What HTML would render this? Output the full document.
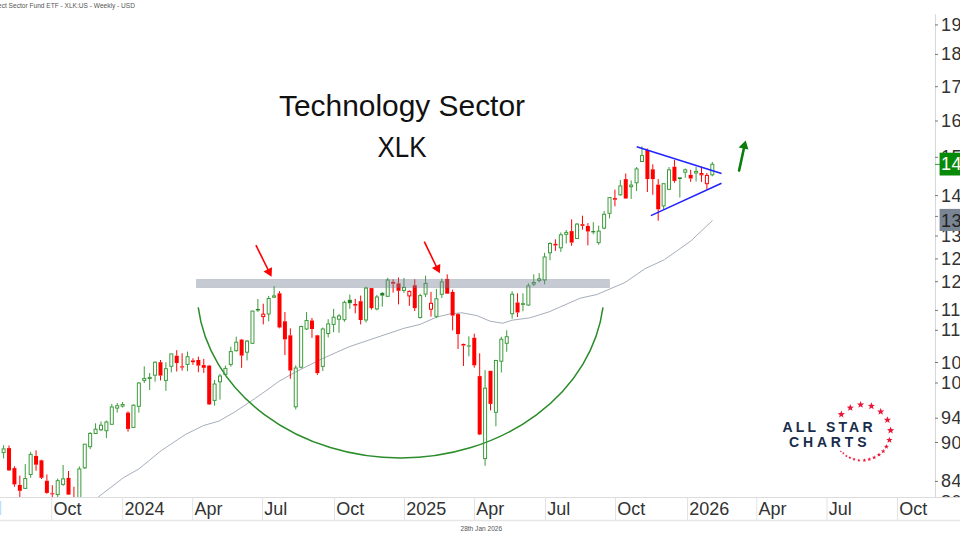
<!DOCTYPE html>
<html><head><meta charset="utf-8">
<style>
html,body{margin:0;padding:0;background:#fff;}
body{width:960px;height:540px;overflow:hidden;position:relative;}
svg{position:absolute;left:0;top:0;}
text{font-family:"Liberation Sans",sans-serif;}
</style></head><body>
<svg width="960" height="540" viewBox="0 0 960 540">
<rect width="960" height="540" fill="#fff"/>
<text x="-2" y="8" font-size="6.8" fill="#555" textLength="137" lengthAdjust="spacingAndGlyphs">ect Sector Fund ETF - XLK:US - Weekly - USD</text>
<g>
<clipPath id="plot"><rect x="0" y="0" width="935" height="497"/></clipPath>
</g>
<g clip-path="url(#plot)">
<path d="M97.8 497.3 L123.3 477.8 L138.9 468.9 L161.1 450.7 L185.6 434.4 L203.3 425.6 L218.9 421.1 L234.4 412.2 L254.4 398.9 L270 387.9 L278.3 381.7 L295 372.3 L322 358.8 L349.2 346.7 L374.2 338.3 L403.3 328.5 L420 324.4 L436.7 317.1 L451 313.7 L462 312.8 L476.9 315.6 L489.8 321.1 L502.8 323.3 L512 320.2 L529.6 317.9 L548.9 311.9 L580.2 298.2 L596.9 294.5 L625 282.5 L645.2 268.6 L664.4 259.7 L690.9 240.9 L712.5 220.5" fill="none" stroke="#a6aebb" stroke-width="1"/>
<path d="M198.22 307.4 A203.6 169 0 0 0 602.98 307.4" fill="none" stroke="#2a8c2a" stroke-width="1.5"/>
<line x1="3.6" y1="445.2" x2="3.6" y2="448.9" stroke="#3c9c3c"/>
<line x1="3.6" y1="452.6" x2="3.6" y2="458.5" stroke="#3c9c3c"/>
<rect x="2.1" y="448.9" width="3" height="3.7" fill="none" stroke="#3c9c3c"/>
<line x1="9.01" y1="445.5" x2="9.01" y2="448.1" stroke="#ff0000"/>
<line x1="9.01" y1="470.4" x2="9.01" y2="471" stroke="#ff0000"/>
<rect x="7.01" y="448.1" width="4" height="22.3" fill="#ff0000"/>
<line x1="14.42" y1="466.2" x2="14.42" y2="468.1" stroke="#ff0000"/>
<line x1="14.42" y1="484.4" x2="14.42" y2="486.7" stroke="#ff0000"/>
<rect x="12.42" y="468.1" width="4" height="16.3" fill="#ff0000"/>
<line x1="19.83" y1="475.6" x2="19.83" y2="484.9" stroke="#ff0000"/>
<line x1="19.83" y1="490.8" x2="19.83" y2="500" stroke="#ff0000"/>
<rect x="17.83" y="484.9" width="4" height="5.9" fill="#ff0000"/>
<line x1="25.24" y1="464.1" x2="25.24" y2="478.5" stroke="#3c9c3c"/>
<line x1="25.24" y1="488.4" x2="25.24" y2="488.9" stroke="#3c9c3c"/>
<rect x="23.74" y="478.5" width="3" height="9.9" fill="none" stroke="#3c9c3c"/>
<line x1="30.65" y1="451.9" x2="30.65" y2="454.4" stroke="#3c9c3c"/>
<line x1="30.65" y1="474.5" x2="30.65" y2="477.8" stroke="#3c9c3c"/>
<rect x="29.15" y="454.4" width="3" height="20.1" fill="none" stroke="#3c9c3c"/>
<line x1="36.06" y1="450.4" x2="36.06" y2="455.9" stroke="#ff0000"/>
<line x1="36.06" y1="464.7" x2="36.06" y2="470.7" stroke="#ff0000"/>
<rect x="34.06" y="455.9" width="4" height="8.8" fill="#ff0000"/>
<line x1="41.47" y1="459.7" x2="41.47" y2="460.3" stroke="#ff0000"/>
<line x1="41.47" y1="477.8" x2="41.47" y2="479" stroke="#ff0000"/>
<rect x="39.47" y="460.3" width="4" height="17.5" fill="#ff0000"/>
<line x1="46.88" y1="474.5" x2="46.88" y2="480.7" stroke="#ff0000"/>
<line x1="46.88" y1="492.9" x2="46.88" y2="493.8" stroke="#ff0000"/>
<rect x="44.88" y="480.7" width="4" height="12.2" fill="#ff0000"/>
<line x1="52.29" y1="485.2" x2="52.29" y2="493.3" stroke="#ff0000"/>
<line x1="52.29" y1="494.4" x2="52.29" y2="500" stroke="#ff0000"/>
<rect x="50.29" y="493.3" width="4" height="1.1" fill="#ff0000"/>
<line x1="57.7" y1="478.5" x2="57.7" y2="480.7" stroke="#3c9c3c"/>
<line x1="57.7" y1="494.6" x2="57.7" y2="500" stroke="#3c9c3c"/>
<rect x="56.2" y="480.7" width="3" height="13.9" fill="none" stroke="#3c9c3c"/>
<line x1="63.11" y1="465" x2="63.11" y2="478.9" stroke="#3c9c3c"/>
<line x1="63.11" y1="484.4" x2="63.11" y2="485.8" stroke="#3c9c3c"/>
<rect x="61.61" y="478.9" width="3" height="5.5" fill="none" stroke="#3c9c3c"/>
<line x1="68.52" y1="471" x2="68.52" y2="477.9" stroke="#ff0000"/>
<line x1="68.52" y1="494.6" x2="68.52" y2="495" stroke="#ff0000"/>
<rect x="66.52" y="477.9" width="4" height="16.7" fill="#ff0000"/>
<line x1="73.93" y1="486.7" x2="73.93" y2="500" stroke="#ff0000"/>
<rect x="71.93" y="500" width="4" height="10" fill="#ff0000"/>
<line x1="79.34" y1="466.4" x2="79.34" y2="468.9" stroke="#3c9c3c"/>
<rect x="77.84" y="468.9" width="3" height="41.1" fill="none" stroke="#3c9c3c"/>
<line x1="84.75" y1="443.9" x2="84.75" y2="444.2" stroke="#3c9c3c"/>
<line x1="84.75" y1="467.8" x2="84.75" y2="468.9" stroke="#3c9c3c"/>
<rect x="83.25" y="444.2" width="3" height="23.6" fill="none" stroke="#3c9c3c"/>
<line x1="90.16" y1="432.1" x2="90.16" y2="433.5" stroke="#3c9c3c"/>
<line x1="90.16" y1="446.7" x2="90.16" y2="449.2" stroke="#3c9c3c"/>
<rect x="88.66" y="433.5" width="3" height="13.2" fill="none" stroke="#3c9c3c"/>
<line x1="95.57" y1="423.3" x2="95.57" y2="429.2" stroke="#3c9c3c"/>
<line x1="95.57" y1="433.5" x2="95.57" y2="433.6" stroke="#3c9c3c"/>
<rect x="94.07" y="429.2" width="3" height="4.3" fill="none" stroke="#3c9c3c"/>
<line x1="100.98" y1="421.5" x2="100.98" y2="425.2" stroke="#3c9c3c"/>
<line x1="100.98" y1="429.8" x2="100.98" y2="431.1" stroke="#3c9c3c"/>
<rect x="99.48" y="425.2" width="3" height="4.6" fill="none" stroke="#3c9c3c"/>
<line x1="106.39" y1="420.6" x2="106.39" y2="422" stroke="#3c9c3c"/>
<line x1="106.39" y1="430.7" x2="106.39" y2="438.1" stroke="#3c9c3c"/>
<rect x="104.89" y="422" width="3" height="8.7" fill="none" stroke="#3c9c3c"/>
<line x1="111.8" y1="403.9" x2="111.8" y2="407" stroke="#3c9c3c"/>
<rect x="110.3" y="407" width="3" height="17.3" fill="none" stroke="#3c9c3c"/>
<line x1="117.21" y1="403" x2="117.21" y2="405.7" stroke="#3c9c3c"/>
<line x1="117.21" y1="408.1" x2="117.21" y2="412.6" stroke="#3c9c3c"/>
<rect x="115.71" y="405.7" width="3" height="2.4" fill="none" stroke="#3c9c3c"/>
<line x1="122.62" y1="402" x2="122.62" y2="404.5" stroke="#3c9c3c"/>
<line x1="122.62" y1="406.1" x2="122.62" y2="407.6" stroke="#3c9c3c"/>
<rect x="121.12" y="404.5" width="3" height="1.6" fill="none" stroke="#3c9c3c"/>
<line x1="128.03" y1="411.3" x2="128.03" y2="412.6" stroke="#ff0000"/>
<line x1="128.03" y1="428.9" x2="128.03" y2="431.7" stroke="#ff0000"/>
<rect x="126.03" y="412.6" width="4" height="16.3" fill="#ff0000"/>
<line x1="133.44" y1="404.4" x2="133.44" y2="405.2" stroke="#3c9c3c"/>
<rect x="131.94" y="405.2" width="3" height="22.2" fill="none" stroke="#3c9c3c"/>
<line x1="138.85" y1="382.2" x2="138.85" y2="383" stroke="#3c9c3c"/>
<line x1="138.85" y1="406.3" x2="138.85" y2="412.6" stroke="#3c9c3c"/>
<rect x="137.35" y="383" width="3" height="23.3" fill="none" stroke="#3c9c3c"/>
<line x1="144.26" y1="366.3" x2="144.26" y2="378.5" stroke="#3c9c3c"/>
<line x1="144.26" y1="380.4" x2="144.26" y2="383" stroke="#3c9c3c"/>
<rect x="142.76" y="378.5" width="3" height="1.9" fill="none" stroke="#3c9c3c"/>
<line x1="149.67" y1="373" x2="149.67" y2="377.4" stroke="#3c9c3c"/>
<line x1="149.67" y1="378.5" x2="149.67" y2="390" stroke="#3c9c3c"/>
<rect x="148.17" y="377.4" width="3" height="1.1" fill="none" stroke="#3c9c3c"/>
<line x1="155.08" y1="361.3" x2="155.08" y2="362.2" stroke="#3c9c3c"/>
<line x1="155.08" y1="375.2" x2="155.08" y2="381.7" stroke="#3c9c3c"/>
<rect x="153.58" y="362.2" width="3" height="13" fill="none" stroke="#3c9c3c"/>
<line x1="160.49" y1="360" x2="160.49" y2="362.2" stroke="#ff0000"/>
<line x1="160.49" y1="375.6" x2="160.49" y2="380.4" stroke="#ff0000"/>
<rect x="158.49" y="362.2" width="4" height="13.4" fill="#ff0000"/>
<line x1="165.9" y1="362.2" x2="165.9" y2="368.7" stroke="#3c9c3c"/>
<line x1="165.9" y1="380.4" x2="165.9" y2="390.9" stroke="#3c9c3c"/>
<rect x="164.4" y="368.7" width="3" height="11.7" fill="none" stroke="#3c9c3c"/>
<line x1="171.31" y1="366.3" x2="171.31" y2="372.4" stroke="#3c9c3c"/>
<rect x="169.81" y="353.9" width="3" height="12.4" fill="none" stroke="#3c9c3c"/>
<line x1="176.72" y1="350.2" x2="176.72" y2="355.7" stroke="#ff0000"/>
<line x1="176.72" y1="363.1" x2="176.72" y2="371.5" stroke="#ff0000"/>
<rect x="174.72" y="355.7" width="4" height="7.4" fill="#ff0000"/>
<line x1="182.13" y1="353.3" x2="182.13" y2="366.3" stroke="#ff0000"/>
<line x1="182.13" y1="367.5" x2="182.13" y2="370.6" stroke="#ff0000"/>
<rect x="180.13" y="366.3" width="4" height="1.2" fill="#ff0000"/>
<line x1="187.54" y1="351.6" x2="187.54" y2="356.7" stroke="#3c9c3c"/>
<line x1="187.54" y1="364.4" x2="187.54" y2="371.1" stroke="#3c9c3c"/>
<rect x="186.04" y="356.7" width="3" height="7.7" fill="none" stroke="#3c9c3c"/>
<line x1="192.95" y1="358.2" x2="192.95" y2="360.4" stroke="#ff0000"/>
<line x1="192.95" y1="362.2" x2="192.95" y2="364.9" stroke="#ff0000"/>
<rect x="190.95" y="360.4" width="4" height="1.8" fill="#ff0000"/>
<line x1="198.36" y1="356.7" x2="198.36" y2="360" stroke="#ff0000"/>
<line x1="198.36" y1="365.6" x2="198.36" y2="372.2" stroke="#ff0000"/>
<rect x="196.36" y="360" width="4" height="5.6" fill="#ff0000"/>
<line x1="203.77" y1="358.9" x2="203.77" y2="365.1" stroke="#ff0000"/>
<line x1="203.77" y1="367.8" x2="203.77" y2="372.9" stroke="#ff0000"/>
<rect x="201.77" y="365.1" width="4" height="2.7" fill="#ff0000"/>
<line x1="209.18" y1="364.9" x2="209.18" y2="365.6" stroke="#ff0000"/>
<line x1="209.18" y1="404.4" x2="209.18" y2="405" stroke="#ff0000"/>
<rect x="207.18" y="365.6" width="4" height="38.8" fill="#ff0000"/>
<line x1="214.59" y1="380" x2="214.59" y2="384" stroke="#3c9c3c"/>
<line x1="214.59" y1="400.4" x2="214.59" y2="405.6" stroke="#3c9c3c"/>
<rect x="213.09" y="384" width="3" height="16.4" fill="none" stroke="#3c9c3c"/>
<line x1="220" y1="373.8" x2="220" y2="376" stroke="#3c9c3c"/>
<line x1="220" y1="381.8" x2="220" y2="399.6" stroke="#3c9c3c"/>
<rect x="218.5" y="376" width="3" height="5.8" fill="none" stroke="#3c9c3c"/>
<line x1="225.41" y1="365.6" x2="225.41" y2="368.4" stroke="#3c9c3c"/>
<line x1="225.41" y1="374.4" x2="225.41" y2="375.6" stroke="#3c9c3c"/>
<rect x="223.91" y="368.4" width="3" height="6" fill="none" stroke="#3c9c3c"/>
<line x1="230.82" y1="346.7" x2="230.82" y2="351.6" stroke="#3c9c3c"/>
<line x1="230.82" y1="364.4" x2="230.82" y2="366.7" stroke="#3c9c3c"/>
<rect x="229.32" y="351.6" width="3" height="12.8" fill="none" stroke="#3c9c3c"/>
<line x1="236.23" y1="336.7" x2="236.23" y2="342.2" stroke="#3c9c3c"/>
<line x1="236.23" y1="350.7" x2="236.23" y2="351.6" stroke="#3c9c3c"/>
<rect x="234.73" y="342.2" width="3" height="8.5" fill="none" stroke="#3c9c3c"/>
<line x1="241.64" y1="338.9" x2="241.64" y2="339.6" stroke="#ff0000"/>
<line x1="241.64" y1="355.6" x2="241.64" y2="367.8" stroke="#ff0000"/>
<rect x="239.64" y="339.6" width="4" height="16" fill="#ff0000"/>
<line x1="247.05" y1="340" x2="247.05" y2="341.1" stroke="#3c9c3c"/>
<line x1="247.05" y1="352.2" x2="247.05" y2="360.4" stroke="#3c9c3c"/>
<rect x="245.55" y="341.1" width="3" height="11.1" fill="none" stroke="#3c9c3c"/>
<line x1="252.46" y1="310.7" x2="252.46" y2="311.1" stroke="#3c9c3c"/>
<line x1="252.46" y1="343.3" x2="252.46" y2="344" stroke="#3c9c3c"/>
<rect x="250.96" y="311.1" width="3" height="32.2" fill="none" stroke="#3c9c3c"/>
<line x1="257.87" y1="299" x2="257.87" y2="309" stroke="#3c9c3c"/>
<line x1="257.87" y1="310.5" x2="257.87" y2="312" stroke="#3c9c3c"/>
<rect x="255.87" y="309" width="4" height="1.5" fill="#1f7f1f"/>
<line x1="263.28" y1="303.7" x2="263.28" y2="314.2" stroke="#ff0000"/>
<line x1="263.28" y1="316.6" x2="263.28" y2="324.4" stroke="#ff0000"/>
<rect x="261.78" y="314.2" width="3" height="2.4" fill="none" stroke="#ff0000"/>
<line x1="268.69" y1="295.9" x2="268.69" y2="298.5" stroke="#3c9c3c"/>
<line x1="268.69" y1="314" x2="268.69" y2="321.3" stroke="#3c9c3c"/>
<rect x="267.19" y="298.5" width="3" height="15.5" fill="none" stroke="#3c9c3c"/>
<line x1="274.1" y1="286" x2="274.1" y2="295.9" stroke="#3c9c3c"/>
<line x1="274.1" y1="297.2" x2="274.1" y2="298" stroke="#3c9c3c"/>
<rect x="272.6" y="295.9" width="3" height="1.3" fill="none" stroke="#3c9c3c"/>
<line x1="279.51" y1="291.2" x2="279.51" y2="293.3" stroke="#ff0000"/>
<line x1="279.51" y1="327.5" x2="279.51" y2="328.3" stroke="#ff0000"/>
<rect x="277.51" y="293.3" width="4" height="34.2" fill="#ff0000"/>
<line x1="284.92" y1="312" x2="284.92" y2="321.3" stroke="#ff0000"/>
<line x1="284.92" y1="339.4" x2="284.92" y2="355" stroke="#ff0000"/>
<rect x="282.92" y="321.3" width="4" height="18.1" fill="#ff0000"/>
<line x1="290.33" y1="328.3" x2="290.33" y2="335.3" stroke="#ff0000"/>
<line x1="290.33" y1="370.5" x2="290.33" y2="378.8" stroke="#ff0000"/>
<rect x="288.33" y="335.3" width="4" height="35.2" fill="#ff0000"/>
<line x1="295.74" y1="365.3" x2="295.74" y2="368" stroke="#3c9c3c"/>
<line x1="295.74" y1="406.8" x2="295.74" y2="409.4" stroke="#3c9c3c"/>
<rect x="294.24" y="368" width="3" height="38.8" fill="none" stroke="#3c9c3c"/>
<line x1="301.15" y1="325.7" x2="301.15" y2="326.5" stroke="#3c9c3c"/>
<line x1="301.15" y1="367.2" x2="301.15" y2="368.4" stroke="#3c9c3c"/>
<rect x="299.65" y="326.5" width="3" height="40.7" fill="none" stroke="#3c9c3c"/>
<line x1="306.56" y1="312" x2="306.56" y2="320.5" stroke="#3c9c3c"/>
<line x1="306.56" y1="329" x2="306.56" y2="330" stroke="#3c9c3c"/>
<rect x="305.06" y="320.5" width="3" height="8.5" fill="none" stroke="#3c9c3c"/>
<line x1="311.97" y1="318" x2="311.97" y2="320.5" stroke="#ff0000"/>
<line x1="311.97" y1="329" x2="311.97" y2="337.9" stroke="#ff0000"/>
<rect x="309.97" y="320.5" width="4" height="8.5" fill="#ff0000"/>
<line x1="317.38" y1="334.8" x2="317.38" y2="335.3" stroke="#ff0000"/>
<line x1="317.38" y1="373.1" x2="317.38" y2="374.9" stroke="#ff0000"/>
<rect x="315.38" y="335.3" width="4" height="37.8" fill="#ff0000"/>
<line x1="322.79" y1="327.5" x2="322.79" y2="329" stroke="#3c9c3c"/>
<line x1="322.79" y1="366.4" x2="322.79" y2="371" stroke="#3c9c3c"/>
<rect x="321.29" y="329" width="3" height="37.4" fill="none" stroke="#3c9c3c"/>
<line x1="328.2" y1="319.2" x2="328.2" y2="323.9" stroke="#3c9c3c"/>
<line x1="328.2" y1="333.5" x2="328.2" y2="337.4" stroke="#3c9c3c"/>
<rect x="326.7" y="323.9" width="3" height="9.6" fill="none" stroke="#3c9c3c"/>
<line x1="333.61" y1="308.9" x2="333.61" y2="317.2" stroke="#3c9c3c"/>
<line x1="333.61" y1="324.4" x2="333.61" y2="332.2" stroke="#3c9c3c"/>
<rect x="332.11" y="317.2" width="3" height="7.2" fill="none" stroke="#3c9c3c"/>
<line x1="339.02" y1="314" x2="339.02" y2="316" stroke="#3c9c3c"/>
<line x1="339.02" y1="319.2" x2="339.02" y2="332.7" stroke="#3c9c3c"/>
<rect x="337.52" y="316" width="3" height="3.2" fill="none" stroke="#3c9c3c"/>
<line x1="344.43" y1="300.6" x2="344.43" y2="302.4" stroke="#3c9c3c"/>
<line x1="344.43" y1="319.7" x2="344.43" y2="321.8" stroke="#3c9c3c"/>
<rect x="342.93" y="302.4" width="3" height="17.3" fill="none" stroke="#3c9c3c"/>
<line x1="349.84" y1="294.6" x2="349.84" y2="299.8" stroke="#3c9c3c"/>
<line x1="349.84" y1="303.2" x2="349.84" y2="308.9" stroke="#3c9c3c"/>
<rect x="347.84" y="299.8" width="4" height="3.4" fill="#1f7f1f"/>
<line x1="355.25" y1="298.8" x2="355.25" y2="304" stroke="#ff0000"/>
<line x1="355.25" y1="305.6" x2="355.25" y2="313.3" stroke="#ff0000"/>
<rect x="353.25" y="304" width="4" height="1.6" fill="#ff0000"/>
<line x1="360.66" y1="295.6" x2="360.66" y2="301.2" stroke="#ff0000"/>
<line x1="360.66" y1="320" x2="360.66" y2="324.4" stroke="#ff0000"/>
<rect x="358.66" y="301.2" width="4" height="18.8" fill="#ff0000"/>
<line x1="366.07" y1="286.7" x2="366.07" y2="288.1" stroke="#3c9c3c"/>
<line x1="366.07" y1="320" x2="366.07" y2="322.5" stroke="#3c9c3c"/>
<rect x="364.57" y="288.1" width="3" height="31.9" fill="none" stroke="#3c9c3c"/>
<line x1="371.48" y1="287.9" x2="371.48" y2="288.1" stroke="#ff0000"/>
<line x1="371.48" y1="308.1" x2="371.48" y2="309.6" stroke="#ff0000"/>
<rect x="369.48" y="288.1" width="4" height="20" fill="#ff0000"/>
<line x1="376.89" y1="294.8" x2="376.89" y2="297" stroke="#3c9c3c"/>
<line x1="376.89" y1="308.9" x2="376.89" y2="310.4" stroke="#3c9c3c"/>
<rect x="375.39" y="297" width="3" height="11.9" fill="none" stroke="#3c9c3c"/>
<line x1="382.3" y1="291.9" x2="382.3" y2="292.9" stroke="#3c9c3c"/>
<line x1="382.3" y1="295.6" x2="382.3" y2="306.7" stroke="#3c9c3c"/>
<rect x="380.3" y="292.9" width="4" height="2.7" fill="#1f7f1f"/>
<line x1="387.71" y1="277.8" x2="387.71" y2="280" stroke="#3c9c3c"/>
<line x1="387.71" y1="296.3" x2="387.71" y2="297" stroke="#3c9c3c"/>
<rect x="386.21" y="280" width="3" height="16.3" fill="none" stroke="#3c9c3c"/>
<line x1="393.12" y1="279.3" x2="393.12" y2="281.9" stroke="#ff0000"/>
<line x1="393.12" y1="283.7" x2="393.12" y2="292.6" stroke="#ff0000"/>
<rect x="391.12" y="281.9" width="4" height="1.8" fill="#ff0000"/>
<line x1="398.53" y1="277.5" x2="398.53" y2="283.4" stroke="#ff0000"/>
<line x1="398.53" y1="290.8" x2="398.53" y2="304.4" stroke="#ff0000"/>
<rect x="396.53" y="283.4" width="4" height="7.4" fill="#ff0000"/>
<line x1="403.94" y1="278" x2="403.94" y2="287.4" stroke="#3c9c3c"/>
<line x1="403.94" y1="290.4" x2="403.94" y2="292.9" stroke="#3c9c3c"/>
<rect x="402.44" y="287.4" width="3" height="3" fill="none" stroke="#3c9c3c"/>
<line x1="409.35" y1="290.4" x2="409.35" y2="291.4" stroke="#ff0000"/>
<line x1="409.35" y1="295.9" x2="409.35" y2="305.9" stroke="#ff0000"/>
<rect x="407.85" y="291.4" width="3" height="4.5" fill="none" stroke="#ff0000"/>
<line x1="414.76" y1="279.3" x2="414.76" y2="285.2" stroke="#ff0000"/>
<line x1="414.76" y1="308.1" x2="414.76" y2="311.1" stroke="#ff0000"/>
<rect x="412.76" y="285.2" width="4" height="22.9" fill="#ff0000"/>
<line x1="420.17" y1="293.8" x2="420.17" y2="295.6" stroke="#3c9c3c"/>
<line x1="420.17" y1="317.5" x2="420.17" y2="318.5" stroke="#3c9c3c"/>
<rect x="418.67" y="295.6" width="3" height="21.9" fill="none" stroke="#3c9c3c"/>
<line x1="425.58" y1="275.6" x2="425.58" y2="283.4" stroke="#3c9c3c"/>
<line x1="425.58" y1="294.1" x2="425.58" y2="297" stroke="#3c9c3c"/>
<rect x="424.08" y="283.4" width="3" height="10.7" fill="none" stroke="#3c9c3c"/>
<line x1="430.99" y1="291.9" x2="430.99" y2="303.3" stroke="#ff0000"/>
<line x1="430.99" y1="309.2" x2="430.99" y2="316.6" stroke="#ff0000"/>
<rect x="429.49" y="303.3" width="3" height="5.9" fill="none" stroke="#ff0000"/>
<line x1="436.4" y1="288.9" x2="436.4" y2="298.8" stroke="#3c9c3c"/>
<line x1="436.4" y1="316.3" x2="436.4" y2="318.1" stroke="#3c9c3c"/>
<rect x="434.9" y="298.8" width="3" height="17.5" fill="none" stroke="#3c9c3c"/>
<line x1="441.81" y1="278.5" x2="441.81" y2="281.9" stroke="#3c9c3c"/>
<line x1="441.81" y1="294.3" x2="441.81" y2="298" stroke="#3c9c3c"/>
<rect x="440.31" y="281.9" width="3" height="12.4" fill="none" stroke="#3c9c3c"/>
<line x1="447.22" y1="274.4" x2="447.22" y2="278.9" stroke="#ff0000"/>
<rect x="445.22" y="278.9" width="4" height="14.8" fill="#ff0000"/>
<line x1="452.63" y1="289.6" x2="452.63" y2="291.9" stroke="#ff0000"/>
<line x1="452.63" y1="315.6" x2="452.63" y2="330.4" stroke="#ff0000"/>
<rect x="450.63" y="291.9" width="4" height="23.7" fill="#ff0000"/>
<line x1="458.04" y1="313.3" x2="458.04" y2="314.1" stroke="#ff0000"/>
<line x1="458.04" y1="334.1" x2="458.04" y2="348.9" stroke="#ff0000"/>
<rect x="456.04" y="314.1" width="4" height="20" fill="#ff0000"/>
<line x1="463.45" y1="343.6" x2="463.45" y2="343.95" stroke="#ff0000"/>
<line x1="463.45" y1="345.55" x2="463.45" y2="366" stroke="#ff0000"/>
<rect x="461.45" y="343.95" width="4" height="1.6" fill="#ff0000"/>
<line x1="468.86" y1="336.3" x2="468.86" y2="345.5" stroke="#3c9c3c"/>
<line x1="468.86" y1="346.5" x2="468.86" y2="356.3" stroke="#3c9c3c"/>
<rect x="466.86" y="345.5" width="4" height="1" fill="#1f7f1f"/>
<line x1="474.27" y1="333.7" x2="474.27" y2="337.8" stroke="#ff0000"/>
<line x1="474.27" y1="365.3" x2="474.27" y2="367.7" stroke="#ff0000"/>
<rect x="472.27" y="337.8" width="4" height="27.5" fill="#ff0000"/>
<line x1="479.68" y1="353.3" x2="479.68" y2="376.1" stroke="#ff0000"/>
<line x1="479.68" y1="434.5" x2="479.68" y2="435.2" stroke="#ff0000"/>
<rect x="477.68" y="376.1" width="4" height="58.4" fill="#ff0000"/>
<line x1="485.09" y1="370.1" x2="485.09" y2="388.2" stroke="#3c9c3c"/>
<line x1="485.09" y1="458.6" x2="485.09" y2="465.8" stroke="#3c9c3c"/>
<rect x="483.59" y="388.2" width="3" height="70.4" fill="none" stroke="#3c9c3c"/>
<line x1="490.5" y1="403.9" x2="490.5" y2="410.4" stroke="#ff0000"/>
<rect x="488.5" y="370.8" width="4" height="33.1" fill="#ff0000"/>
<line x1="495.91" y1="359.8" x2="495.91" y2="360.5" stroke="#3c9c3c"/>
<line x1="495.91" y1="412.3" x2="495.91" y2="426.3" stroke="#3c9c3c"/>
<rect x="494.41" y="360.5" width="3" height="51.8" fill="none" stroke="#3c9c3c"/>
<line x1="501.32" y1="336.7" x2="501.32" y2="339.2" stroke="#3c9c3c"/>
<line x1="501.32" y1="361.2" x2="501.32" y2="372.5" stroke="#3c9c3c"/>
<rect x="499.82" y="339.2" width="3" height="22" fill="none" stroke="#3c9c3c"/>
<line x1="506.73" y1="330.3" x2="506.73" y2="336.7" stroke="#3c9c3c"/>
<line x1="506.73" y1="343.3" x2="506.73" y2="351.7" stroke="#3c9c3c"/>
<rect x="505.23" y="336.7" width="3" height="6.6" fill="none" stroke="#3c9c3c"/>
<line x1="512.14" y1="291.3" x2="512.14" y2="294.2" stroke="#3c9c3c"/>
<line x1="512.14" y1="313.7" x2="512.14" y2="318.7" stroke="#3c9c3c"/>
<rect x="510.64" y="294.2" width="3" height="19.5" fill="none" stroke="#3c9c3c"/>
<line x1="517.55" y1="293.3" x2="517.55" y2="302.5" stroke="#ff0000"/>
<line x1="517.55" y1="312.5" x2="517.55" y2="317" stroke="#ff0000"/>
<rect x="515.55" y="302.5" width="4" height="10" fill="#ff0000"/>
<line x1="522.96" y1="293.3" x2="522.96" y2="303.3" stroke="#3c9c3c"/>
<line x1="522.96" y1="304.7" x2="522.96" y2="311.3" stroke="#3c9c3c"/>
<rect x="520.96" y="303.3" width="4" height="1.4" fill="#1f7f1f"/>
<line x1="528.37" y1="283.3" x2="528.37" y2="285.8" stroke="#3c9c3c"/>
<line x1="528.37" y1="305" x2="528.37" y2="305.8" stroke="#3c9c3c"/>
<rect x="526.87" y="285.8" width="3" height="19.2" fill="none" stroke="#3c9c3c"/>
<line x1="533.78" y1="274.4" x2="533.78" y2="282.45" stroke="#3c9c3c"/>
<line x1="533.78" y1="284.05" x2="533.78" y2="286.1" stroke="#3c9c3c"/>
<rect x="532.28" y="282.45" width="3" height="1.6" fill="none" stroke="#3c9c3c"/>
<line x1="539.19" y1="273.1" x2="539.19" y2="278.8" stroke="#3c9c3c"/>
<line x1="539.19" y1="280.4" x2="539.19" y2="282.4" stroke="#3c9c3c"/>
<rect x="537.69" y="278.8" width="3" height="1.6" fill="none" stroke="#3c9c3c"/>
<line x1="544.6" y1="252.8" x2="544.6" y2="257" stroke="#3c9c3c"/>
<line x1="544.6" y1="280" x2="544.6" y2="284.3" stroke="#3c9c3c"/>
<rect x="543.1" y="257" width="3" height="23" fill="none" stroke="#3c9c3c"/>
<line x1="550.01" y1="242.2" x2="550.01" y2="243.5" stroke="#3c9c3c"/>
<line x1="550.01" y1="252.8" x2="550.01" y2="260.2" stroke="#3c9c3c"/>
<rect x="548.51" y="243.5" width="3" height="9.3" fill="none" stroke="#3c9c3c"/>
<line x1="555.42" y1="239.3" x2="555.42" y2="243.85" stroke="#ff0000"/>
<line x1="555.42" y1="245.45" x2="555.42" y2="250.9" stroke="#ff0000"/>
<rect x="553.42" y="243.85" width="4" height="1.6" fill="#ff0000"/>
<line x1="560.83" y1="232.4" x2="560.83" y2="234.8" stroke="#3c9c3c"/>
<line x1="560.83" y1="247.8" x2="560.83" y2="251.9" stroke="#3c9c3c"/>
<rect x="559.33" y="234.8" width="3" height="13" fill="none" stroke="#3c9c3c"/>
<line x1="566.24" y1="230" x2="566.24" y2="232.4" stroke="#3c9c3c"/>
<line x1="566.24" y1="234.3" x2="566.24" y2="243.5" stroke="#3c9c3c"/>
<rect x="564.74" y="232.4" width="3" height="1.9" fill="none" stroke="#3c9c3c"/>
<line x1="571.65" y1="219.4" x2="571.65" y2="231.1" stroke="#ff0000"/>
<line x1="571.65" y1="242.6" x2="571.65" y2="245.9" stroke="#ff0000"/>
<rect x="569.65" y="231.1" width="4" height="11.5" fill="#ff0000"/>
<line x1="577.06" y1="223.1" x2="577.06" y2="224.1" stroke="#3c9c3c"/>
<rect x="575.56" y="224.1" width="3" height="14.4" fill="none" stroke="#3c9c3c"/>
<line x1="582.47" y1="215.7" x2="582.47" y2="224.2" stroke="#ff0000"/>
<line x1="582.47" y1="225.8" x2="582.47" y2="229.6" stroke="#ff0000"/>
<rect x="580.47" y="224.2" width="4" height="1.6" fill="#ff0000"/>
<line x1="587.88" y1="223.1" x2="587.88" y2="225.9" stroke="#ff0000"/>
<line x1="587.88" y1="231.5" x2="587.88" y2="245.4" stroke="#ff0000"/>
<rect x="585.88" y="225.9" width="4" height="5.6" fill="#ff0000"/>
<line x1="593.29" y1="222.2" x2="593.29" y2="231.1" stroke="#3c9c3c"/>
<line x1="593.29" y1="232.4" x2="593.29" y2="234.3" stroke="#3c9c3c"/>
<rect x="591.29" y="231.1" width="4" height="1.3" fill="#1f7f1f"/>
<line x1="598.7" y1="225.6" x2="598.7" y2="231.1" stroke="#3c9c3c"/>
<line x1="598.7" y1="242.6" x2="598.7" y2="244.8" stroke="#3c9c3c"/>
<rect x="597.2" y="231.1" width="3" height="11.5" fill="none" stroke="#3c9c3c"/>
<line x1="604.11" y1="211.1" x2="604.11" y2="214.3" stroke="#3c9c3c"/>
<line x1="604.11" y1="228.1" x2="604.11" y2="229.3" stroke="#3c9c3c"/>
<rect x="602.61" y="214.3" width="3" height="13.8" fill="none" stroke="#3c9c3c"/>
<line x1="609.52" y1="197" x2="609.52" y2="197.6" stroke="#3c9c3c"/>
<line x1="609.52" y1="213.3" x2="609.52" y2="218.3" stroke="#3c9c3c"/>
<rect x="608.02" y="197.6" width="3" height="15.7" fill="none" stroke="#3c9c3c"/>
<line x1="614.93" y1="189.6" x2="614.93" y2="198.1" stroke="#ff0000"/>
<line x1="614.93" y1="199.7" x2="614.93" y2="206.3" stroke="#ff0000"/>
<rect x="612.93" y="198.1" width="4" height="1.6" fill="#ff0000"/>
<line x1="620.34" y1="180" x2="620.34" y2="185.9" stroke="#3c9c3c"/>
<line x1="620.34" y1="194.8" x2="620.34" y2="195.7" stroke="#3c9c3c"/>
<rect x="618.84" y="185.9" width="3" height="8.9" fill="none" stroke="#3c9c3c"/>
<line x1="625.75" y1="173.5" x2="625.75" y2="179.1" stroke="#ff0000"/>
<line x1="625.75" y1="198.5" x2="625.75" y2="198.9" stroke="#ff0000"/>
<rect x="623.75" y="179.1" width="4" height="19.4" fill="#ff0000"/>
<line x1="631.16" y1="180.4" x2="631.16" y2="185.1" stroke="#3c9c3c"/>
<line x1="631.16" y1="186.7" x2="631.16" y2="198.9" stroke="#3c9c3c"/>
<rect x="629.66" y="185.1" width="3" height="1.6" fill="none" stroke="#3c9c3c"/>
<line x1="636.57" y1="167" x2="636.57" y2="168.9" stroke="#3c9c3c"/>
<line x1="636.57" y1="182.8" x2="636.57" y2="191.1" stroke="#3c9c3c"/>
<rect x="635.07" y="168.9" width="3" height="13.9" fill="none" stroke="#3c9c3c"/>
<line x1="641.98" y1="146.3" x2="641.98" y2="155.6" stroke="#3c9c3c"/>
<rect x="640.48" y="155.6" width="3" height="5.9" fill="none" stroke="#3c9c3c"/>
<line x1="647.39" y1="148.5" x2="647.39" y2="150" stroke="#ff0000"/>
<line x1="647.39" y1="179.1" x2="647.39" y2="192" stroke="#ff0000"/>
<rect x="645.39" y="150" width="4" height="29.1" fill="#ff0000"/>
<line x1="652.8" y1="164.3" x2="652.8" y2="169.3" stroke="#ff0000"/>
<line x1="652.8" y1="179.1" x2="652.8" y2="194.8" stroke="#ff0000"/>
<rect x="650.8" y="169.3" width="4" height="9.8" fill="#ff0000"/>
<line x1="658.21" y1="179.1" x2="658.21" y2="184.6" stroke="#ff0000"/>
<line x1="658.21" y1="209.3" x2="658.21" y2="220.7" stroke="#ff0000"/>
<rect x="656.21" y="184.6" width="4" height="24.7" fill="#ff0000"/>
<line x1="663.62" y1="183.3" x2="663.62" y2="183.7" stroke="#3c9c3c"/>
<line x1="663.62" y1="205.9" x2="663.62" y2="209.3" stroke="#3c9c3c"/>
<rect x="662.12" y="183.7" width="3" height="22.2" fill="none" stroke="#3c9c3c"/>
<line x1="669.03" y1="167" x2="669.03" y2="169.8" stroke="#3c9c3c"/>
<line x1="669.03" y1="189.3" x2="669.03" y2="190.2" stroke="#3c9c3c"/>
<rect x="667.53" y="169.8" width="3" height="19.5" fill="none" stroke="#3c9c3c"/>
<line x1="674.44" y1="160" x2="674.44" y2="166.7" stroke="#ff0000"/>
<line x1="674.44" y1="180.9" x2="674.44" y2="182.8" stroke="#ff0000"/>
<rect x="672.44" y="166.7" width="4" height="14.2" fill="#ff0000"/>
<line x1="679.85" y1="178.95" x2="679.85" y2="197.6" stroke="#3c9c3c"/>
<rect x="677.85" y="177.35" width="4" height="1.6" fill="#1f7f1f"/>
<line x1="685.26" y1="168.5" x2="685.26" y2="169.8" stroke="#3c9c3c"/>
<line x1="685.26" y1="172.2" x2="685.26" y2="177.8" stroke="#3c9c3c"/>
<rect x="683.76" y="169.8" width="3" height="2.4" fill="none" stroke="#3c9c3c"/>
<line x1="690.67" y1="169.8" x2="690.67" y2="174.8" stroke="#ff0000"/>
<line x1="690.67" y1="178.5" x2="690.67" y2="181.9" stroke="#ff0000"/>
<rect x="688.67" y="174.8" width="4" height="3.7" fill="#ff0000"/>
<line x1="696.08" y1="166.7" x2="696.08" y2="171.35" stroke="#3c9c3c"/>
<line x1="696.08" y1="172.95" x2="696.08" y2="181.5" stroke="#3c9c3c"/>
<rect x="694.58" y="171.35" width="3" height="1.6" fill="none" stroke="#3c9c3c"/>
<line x1="701.49" y1="166.7" x2="701.49" y2="173.5" stroke="#ff0000"/>
<line x1="701.49" y1="174.8" x2="701.49" y2="181.9" stroke="#ff0000"/>
<rect x="699.99" y="173.5" width="3" height="1.3" fill="none" stroke="#ff0000"/>
<line x1="706.9" y1="173" x2="706.9" y2="175.4" stroke="#ff0000"/>
<line x1="706.9" y1="183.7" x2="706.9" y2="189.3" stroke="#ff0000"/>
<rect x="705.4" y="175.4" width="3" height="8.3" fill="none" stroke="#ff0000"/>
<line x1="712.31" y1="161.9" x2="712.31" y2="164.3" stroke="#3c9c3c"/>
<line x1="712.31" y1="174.8" x2="712.31" y2="176.3" stroke="#3c9c3c"/>
<rect x="710.81" y="164.3" width="3" height="10.5" fill="none" stroke="#3c9c3c"/>
<rect x="196.5" y="279.4" width="413" height="8.2" fill="rgba(112,124,146,0.4)" stroke="rgba(100,112,130,0.25)" stroke-width="0.8"/>
<line x1="636.7" y1="146.7" x2="721.5" y2="173.5" stroke="#2222ff" stroke-width="1.5"/>
<line x1="650.9" y1="215.6" x2="721.5" y2="183.3" stroke="#2222ff" stroke-width="1.5"/>
<line x1="739.1" y1="170.6" x2="744.2" y2="147" stroke="#0a7d0a" stroke-width="2.6" stroke-linecap="round"/>
<polygon points="745.7,140.6 738.6,147.4 748.4,149.6" fill="#0a7d0a"/>
<line x1="255.9" y1="245.2" x2="268.5" y2="270.5" stroke="#ff0000" stroke-width="1.6"/>
<polygon points="271.6,276.8 263.5,271.6 272,267.2" fill="#ff0000"/>
<line x1="424.3" y1="241.6" x2="436.8" y2="267.5" stroke="#ff0000" stroke-width="1.6"/>
<polygon points="439.9,273.2 431.9,268.1 440.3,263.9" fill="#ff0000"/>
</g>
<text x="279" y="116" font-size="30" fill="#111" textLength="246" lengthAdjust="spacingAndGlyphs">Technology Sector</text>
<text x="377.5" y="156.5" font-size="29.5" fill="#111" textLength="49" lengthAdjust="spacingAndGlyphs">XLK</text>
<g fill="#e8173a">
<polygon points="841.3,410.6 842.24,413.11 844.91,413.23 842.82,414.89 843.53,417.47 841.3,416 839.07,417.47 839.78,414.89 837.69,413.23 840.36,413.11"/>
<polygon points="850.3,404 851.24,406.51 853.91,406.63 851.82,408.29 852.53,410.87 850.3,409.4 848.07,410.87 848.78,408.29 846.69,406.63 849.36,406.51"/>
<polygon points="860.6,400.9 861.54,403.41 864.21,403.53 862.12,405.19 862.83,407.77 860.6,406.3 858.37,407.77 859.08,405.19 856.99,403.53 859.66,403.41"/>
<polygon points="871.4,402.3 872.34,404.81 875.01,404.93 872.92,406.59 873.63,409.17 871.4,407.7 869.17,409.17 869.88,406.59 867.79,404.93 870.46,404.81"/>
<polygon points="880.7,407.9 881.64,410.41 884.31,410.53 882.22,412.19 882.93,414.77 880.7,413.3 878.47,414.77 879.18,412.19 877.09,410.53 879.76,410.41"/>
<polygon points="887.4,416.2 888.34,418.71 891.01,418.83 888.92,420.49 889.63,423.07 887.4,421.6 885.17,423.07 885.88,420.49 883.79,418.83 886.46,418.71"/>
<polygon points="890.6,426.6 891.54,429.11 894.21,429.23 892.12,430.89 892.83,433.47 890.6,432 888.37,433.47 889.08,430.89 886.99,429.23 889.66,429.11"/>
<polygon points="889.4,436.7 890.24,438.94 892.63,439.05 890.76,440.54 891.4,442.85 889.4,441.53 887.4,442.85 888.04,440.54 886.17,439.05 888.56,438.94"/>
<polygon points="886.4,444.1 887.04,445.82 888.87,445.9 887.44,447.04 887.93,448.8 886.4,447.79 884.87,448.8 885.36,447.04 883.93,445.9 885.76,445.82"/>
<polygon points="883.2,448.9 883.79,450.48 885.48,450.56 884.16,451.61 884.61,453.24 883.2,452.31 881.79,453.24 882.24,451.61 880.92,450.56 882.61,450.48"/>
<polygon points="879,452.4 879.57,453.92 881.19,453.99 879.92,455 880.35,456.56 879,455.67 877.65,456.56 878.08,455 876.81,453.99 878.43,453.92"/>
<polygon points="874.2,455.3 874.74,456.75 876.29,456.82 875.08,457.79 875.49,459.28 874.2,458.42 872.91,459.28 873.32,457.79 872.11,456.82 873.66,456.75"/>
<polygon points="869.3,457.2 869.82,458.59 871.3,458.65 870.14,459.57 870.53,461 869.3,460.18 868.07,461 868.46,459.57 867.3,458.65 868.78,458.59"/>
<polygon points="864.4,458.3 864.89,459.62 866.3,459.68 865.2,460.56 865.58,461.92 864.4,461.14 863.22,461.92 863.6,460.56 862.5,459.68 863.91,459.62"/>
<polygon points="858.9,458.4 859.37,459.65 860.71,459.71 859.66,460.55 860.02,461.84 858.9,461.1 857.78,461.84 858.14,460.55 857.09,459.71 858.43,459.65"/>
<polygon points="854,457.4 854.44,458.59 855.71,458.64 854.72,459.43 855.06,460.66 854,459.96 852.94,460.66 853.28,459.43 852.29,458.64 853.56,458.59"/>
<polygon points="849.9,455.8 850.32,456.92 851.52,456.97 850.58,457.72 850.9,458.88 849.9,458.21 848.9,458.88 849.22,457.72 848.28,456.97 849.48,456.92"/>
<polygon points="846.4,454.6 846.77,455.59 847.83,455.64 847,456.29 847.28,457.31 846.4,456.73 845.52,457.31 845.8,456.29 844.97,455.64 846.03,455.59"/>
<polygon points="843.3,451.9 843.65,452.82 844.63,452.87 843.86,453.48 844.12,454.43 843.3,453.89 842.48,454.43 842.74,453.48 841.97,452.87 842.95,452.82"/>
<polygon points="840.8,450.1 841.1,450.89 841.94,450.93 841.28,451.46 841.51,452.27 840.8,451.8 840.09,452.27 840.32,451.46 839.66,450.93 840.5,450.89"/>
</g>
<text x="782.5" y="432.2" font-size="14" font-weight="bold" fill="#182c4c" textLength="90" lengthAdjust="spacing">ALL STAR</text>
<text x="789" y="447.1" font-size="14" font-weight="bold" fill="#182c4c" textLength="77.5" lengthAdjust="spacing">CHARTS</text>
<line x1="935.5" y1="14.4" x2="935.5" y2="497" stroke="#d8d8d8"/>
<line x1="935" y1="24.9" x2="938" y2="24.9" stroke="#777"/>
<line x1="935" y1="54.4" x2="938" y2="54.4" stroke="#777"/>
<line x1="935" y1="86.7" x2="938" y2="86.7" stroke="#777"/>
<line x1="935" y1="121" x2="938" y2="121" stroke="#777"/>
<line x1="935" y1="157.3" x2="938" y2="157.3" stroke="#777"/>
<line x1="935" y1="195.6" x2="938" y2="195.6" stroke="#777"/>
<line x1="935" y1="216.4" x2="938" y2="216.4" stroke="#777"/>
<line x1="935" y1="236" x2="938" y2="236" stroke="#777"/>
<line x1="935" y1="258.9" x2="938" y2="258.9" stroke="#777"/>
<line x1="935" y1="281.7" x2="938" y2="281.7" stroke="#777"/>
<line x1="935" y1="310.4" x2="938" y2="310.4" stroke="#777"/>
<line x1="935" y1="330.3" x2="938" y2="330.3" stroke="#777"/>
<line x1="935" y1="362.5" x2="938" y2="362.5" stroke="#777"/>
<line x1="935" y1="383" x2="938" y2="383" stroke="#777"/>
<line x1="935" y1="418.2" x2="938" y2="418.2" stroke="#777"/>
<line x1="935" y1="442.5" x2="938" y2="442.5" stroke="#777"/>
<line x1="935" y1="481.4" x2="938" y2="481.4" stroke="#777"/>
<line x1="935" y1="502" x2="938" y2="502" stroke="#777"/>
<g font-size="18" fill="#333" letter-spacing="0.6">
<text x="941" y="30.9">190</text>
<text x="941" y="60.4">180</text>
<text x="941" y="92.7">170</text>
<text x="941" y="127">160</text>
<text x="941" y="163.3">150</text>
<text x="941" y="201.6">140</text>
<text x="941" y="222.4">135</text>
<text x="941" y="242">130</text>
<text x="941" y="264.9">125</text>
<text x="941" y="287.7">120</text>
<text x="941" y="316.4">114</text>
<text x="941" y="336.3">110</text>
<text x="941" y="368.5">104</text>
<text x="941" y="389">100</text>
<text x="941" y="424.2">94</text>
<text x="941" y="448.5">90</text>
<text x="941" y="487.4">84</text>
<text x="941" y="508">80</text>
</g>
<line x1="935" y1="164.4" x2="940" y2="164.4" stroke="#3a9a3a"/>
<rect x="939.6" y="152.7" width="21" height="22.8" fill="#078a07"/>
<text x="941" y="170" font-size="18" fill="#fff" letter-spacing="0.6">14</text>
<rect x="939.6" y="208.9" width="21" height="22.1" fill="#7a8594"/>
<text x="941" y="226.5" font-size="18" fill="#222" letter-spacing="0.6">13</text>
<rect x="0" y="497.5" width="960" height="23" fill="#fff"/>
<rect x="0" y="501" width="1.2" height="14" fill="#b5e3fa"/>
<line x1="0" y1="497.5" x2="960" y2="497.5" stroke="#dcdcdc"/>
<line x1="0" y1="520.5" x2="960" y2="520.5" stroke="#e6e6e6" stroke-width="1.5"/>
<line x1="51.7" y1="497.5" x2="51.7" y2="520" stroke="#e3e3e3"/>
<line x1="122.7" y1="497.5" x2="122.7" y2="520" stroke="#e3e3e3"/>
<line x1="192.7" y1="497.5" x2="192.7" y2="520" stroke="#e3e3e3"/>
<line x1="262.5" y1="497.5" x2="262.5" y2="520" stroke="#e3e3e3"/>
<line x1="334.5" y1="497.5" x2="334.5" y2="520" stroke="#e3e3e3"/>
<line x1="404.5" y1="497.5" x2="404.5" y2="520" stroke="#e3e3e3"/>
<line x1="474.5" y1="497.5" x2="474.5" y2="520" stroke="#e3e3e3"/>
<line x1="545.5" y1="497.5" x2="545.5" y2="520" stroke="#e3e3e3"/>
<line x1="615.5" y1="497.5" x2="615.5" y2="520" stroke="#e3e3e3"/>
<line x1="687.5" y1="497.5" x2="687.5" y2="520" stroke="#e3e3e3"/>
<line x1="756.8" y1="497.5" x2="756.8" y2="520" stroke="#e3e3e3"/>
<line x1="827" y1="497.5" x2="827" y2="520" stroke="#e3e3e3"/>
<line x1="897.5" y1="497.5" x2="897.5" y2="520" stroke="#e3e3e3"/>
<g font-size="18" fill="#333">
<text x="53.5" y="514.8">Oct</text>
<text x="124.5" y="514.8">2024</text>
<text x="194.5" y="514.8">Apr</text>
<text x="264.3" y="514.8">Jul</text>
<text x="336.3" y="514.8">Oct</text>
<text x="406.3" y="514.8">2025</text>
<text x="476.3" y="514.8">Apr</text>
<text x="547.3" y="514.8">Jul</text>
<text x="617.3" y="514.8">Oct</text>
<text x="689.3" y="514.8">2026</text>
<text x="758.6" y="514.8">Apr</text>
<text x="828.8" y="514.8">Jul</text>
<text x="899.3" y="514.8">Oct</text>
</g>
<text x="460.5" y="531" font-size="7" fill="#555" textLength="41.6" lengthAdjust="spacingAndGlyphs">28th Jan 2026</text>
</svg>
</body></html>
